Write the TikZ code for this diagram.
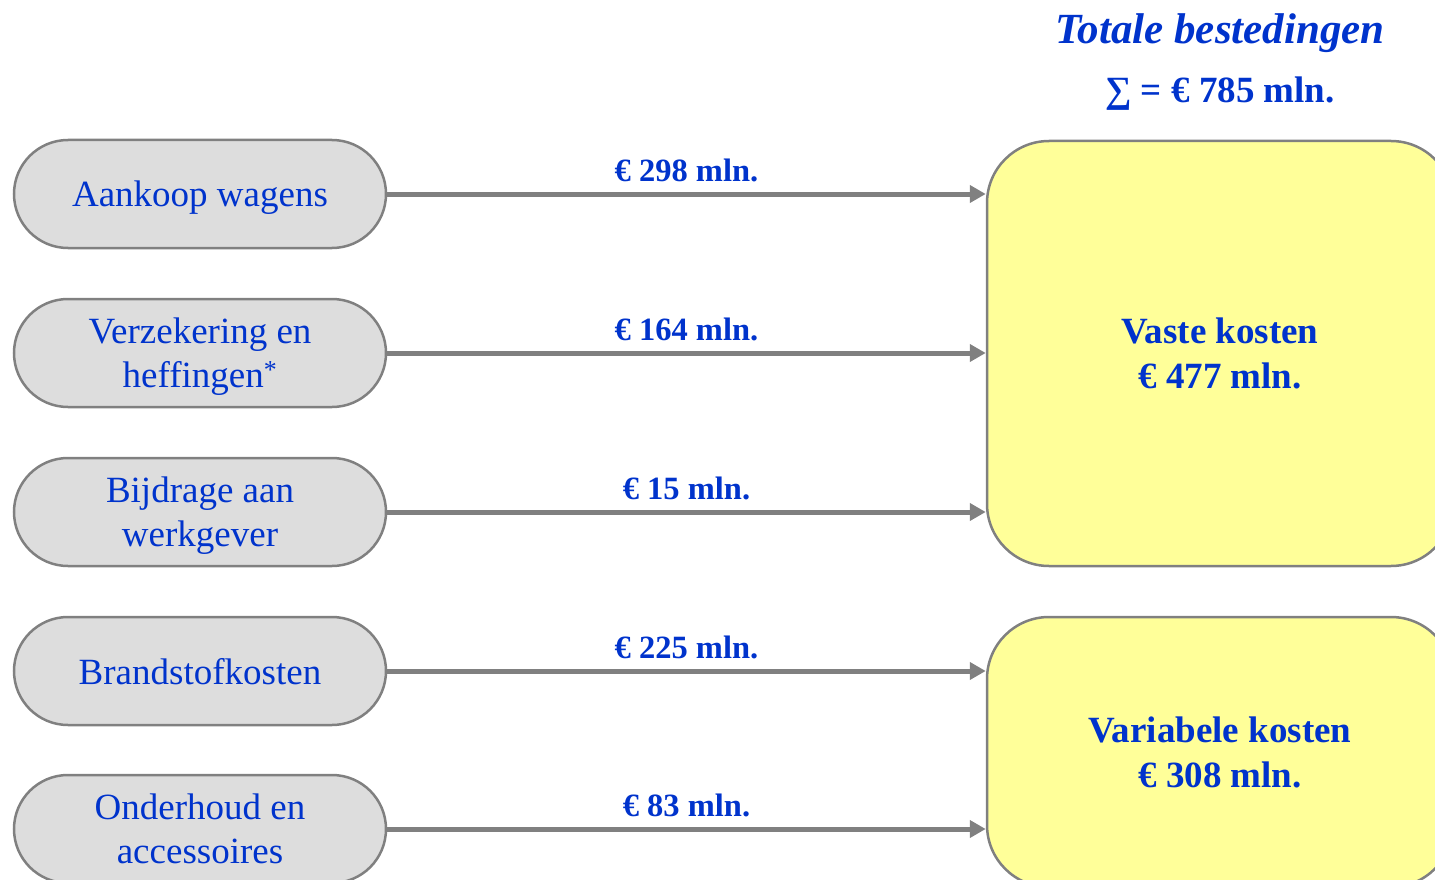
\documentclass[tikz,border=0pt]{standalone}
\usepackage{fontspec}
\setmainfont{Liberation Serif}
\usetikzlibrary{arrows.meta}
\definecolor{txtblue}{RGB}{0,51,204}
\definecolor{pillfill}{RGB}{221,221,221}
\definecolor{boxfill}{RGB}{255,255,153}
\definecolor{edgegrey}{RGB}{128,128,128}
\tikzset{
  pill/.style={draw=edgegrey, line width=2.5pt, fill=pillfill, rounded corners=54pt,
    minimum width=372pt, minimum height=108pt, align=center, text=txtblue,
    font=\fontsize{37}{44}\selectfont, inner sep=0pt, text depth=0pt},
  costbox/.style={draw=edgegrey, line width=2.5pt, fill=boxfill, rounded corners=62pt,
    align=center, text=txtblue, font=\fontsize{37}{45}\selectfont\bfseries, inner sep=0pt},
  flow/.style={draw=edgegrey, line width=5pt, -{Triangle[length=16pt,width=17pt]}, shorten >=0pt},
  amount/.style={text=txtblue, font=\fontsize{32.5}{36}\selectfont\bfseries, inner sep=0pt}
}
\begin{document}
\begin{tikzpicture}[x=1pt,y=-1pt]
\useasboundingbox (0,0) rectangle (1435,880);
\clip (0,0) rectangle (1435,880);
% title
\node[text=txtblue, font=\fontsize{43}{48}\selectfont\bfseries\itshape] (title) at (1220,33) {Totale bestedingen};
\node[text=txtblue, font=\fontsize{37}{42}\selectfont\bfseries] (sum) at (1220,94) {∑ = € 785 mln.};
% cost boxes
\node[costbox, minimum width=466pt, minimum height=425pt] (vast) at (1220,353.5) {Vaste kosten\\€ 477 mln.};
\node[costbox, minimum width=466pt, minimum height=270pt] (var) at (1220,752) {Variabele kosten\\€ 308 mln.};
% pills
\node[pill] (p1) at (200,194) {Aankoop wagens};
\node[pill] (p2) at (200,353) {Verzekering en\\heffingen\textsuperscript{*}};
\node[pill] (p3) at (200,512) {Bijdrage aan\\werkgever};
\node[pill] (p4) at (200,671) {Brandstofkosten};
\node[pill] (p5) at (200,829) {Onderhoud en\\accessoires};
% arrows
\draw[flow] (p1.east) -- (p1.east -| vast.west) node[midway, above=10pt, amount] (l1) {€ 298 mln.};
\draw[flow] (p2.east) -- (p2.east -| vast.west) node[midway, above=10pt, amount] (l2) {€ 164 mln.};
\draw[flow] (p3.east) -- (p3.east -| vast.west) node[midway, above=10pt, amount] (l3) {€ 15 mln.};
\draw[flow] (p4.east) -- (p4.east -| var.west) node[midway, above=10pt, amount] (l4) {€ 225 mln.};
\draw[flow] (p5.east) -- (p5.east -| var.west) node[midway, above=10pt, amount] (l5) {€ 83 mln.};
\end{tikzpicture}
\end{document}
